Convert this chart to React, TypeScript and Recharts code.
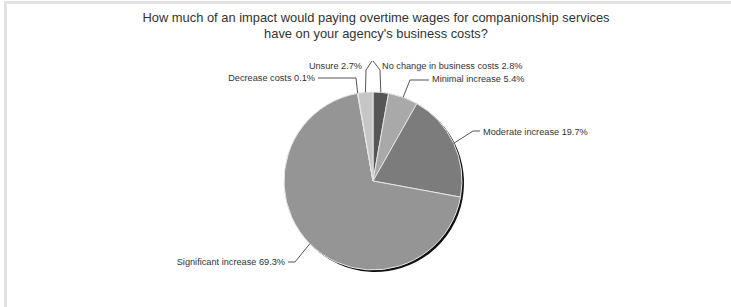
import { PieChart, Pie, Cell } from "recharts"

const categories = [
  "No change in business costs",
  "Minimal increase",
  "Moderate increase",
  "Significant increase",
  "Decrease costs",
  "Unsure",
]
const shares = [2.8, 5.4, 19.7, 69.3, 0.1, 2.7]

const sliceColors = ["#565656", "#a9a9a9", "#7c7c7c", "#959595", "#b5b5b5", "#c6c6c6"]

const data = categories.map((name, i) => ({ name, value: shares[i] }))

// label placement relative to pie centre: leader elbows + text anchor
const labelLayout: Record<string, { pts: [number, number][]; x: number; y: number; anchor: "start" | "end" }> = {
  "No change in business costs": { pts: [[7, -111], [0, -120]], x: 9, y: -115, anchor: "start" },
  "Minimal increase": { pts: [[37, -101], [56, -101]], x: 59, y: -102, anchor: "start" },
  "Moderate increase": { pts: [[100, -50], [107, -50]], x: 110, y: -49, anchor: "start" },
  "Significant increase": { pts: [[-78, 81], [-85, 81]], x: -88, y: 81, anchor: "end" },
  "Decrease costs": { pts: [[-17, -103], [-55, -103]], x: -58, y: -103, anchor: "end" },
  "Unsure": { pts: [[-7, -111], [-1, -120]], x: -11, y: -115, anchor: "end" },
}

const RAD = Math.PI / 180

const renderLabel = (props: any) => {
  const { cx, cy, midAngle, outerRadius, name, value } = props
  const lay = labelLayout[name]
  if (!lay) return null
  const ex = cx + outerRadius * Math.cos(-midAngle * RAD)
  const ey = cy + outerRadius * Math.sin(-midAngle * RAD)
  const pts = [[ex, ey], ...lay.pts.map(([dx, dy]) => [cx + dx, cy + dy])]
  return (
    <g>
      <polyline points={pts.map((p) => p.join(",")).join(" ")} fill="none" stroke="#555" strokeWidth={1} />
      <text
        x={cx + lay.x}
        y={cy + lay.y}
        textAnchor={lay.anchor}
        dominantBaseline="central"
        fontSize={9.2}
        fill="#333"
        fontFamily="'Liberation Sans', Arial, sans-serif"
      >
        {`${name} ${value.toFixed(1)}%`}
      </text>
    </g>
  )
}

export default function App() {
  return (
    <div style={{ position: "fixed", left: 0, top: 0, width: 731, height: 307, background: "#fff" }}>
      <div
        style={{
          position: "absolute", left: 4, top: 1, width: 727, height: 304,
          borderTop: "3px solid #e2e2e2", borderLeft: "3px solid #e2e2e2", borderBottom: "1px solid #eee",
        }}
      />
      <div
        style={{
          position: "absolute", left: 0, top: 10, width: 752, textAlign: "center",
          fontFamily: "'Liberation Sans', Arial, sans-serif", fontSize: 12.9, lineHeight: "16px", color: "#333",
        }}
      >
        How much of an impact would paying overtime wages for companionship services
        <br />
        have on your agency's business costs?
      </div>
      <div style={{ position: "absolute", left: 0, top: 0 }}>
        <PieChart width={731} height={307} margin={{ top: 0, right: 0, bottom: 0, left: 0 }}>
          <Pie
            data={data}
            dataKey="value"
            cx={375}
            cy={183}
            outerRadius={89}
            startAngle={90}
            endAngle={-270}
            fill="#111"
            stroke="none"
            isAnimationActive={false}
            label={false}
            labelLine={false}
          />
          <Pie
            data={data}
            dataKey="value"
            nameKey="name"
            cx={373}
            cy={181}
            outerRadius={89}
            startAngle={90}
            endAngle={-270}
            stroke="#e6e6e6"
            strokeWidth={1}
            isAnimationActive={false}
            label={renderLabel}
            labelLine={false}
          >
            {data.map((d, i) => (
              <Cell key={d.name} fill={sliceColors[i]} />
            ))}
          </Pie>
        </PieChart>
      </div>
    </div>
  )
}
